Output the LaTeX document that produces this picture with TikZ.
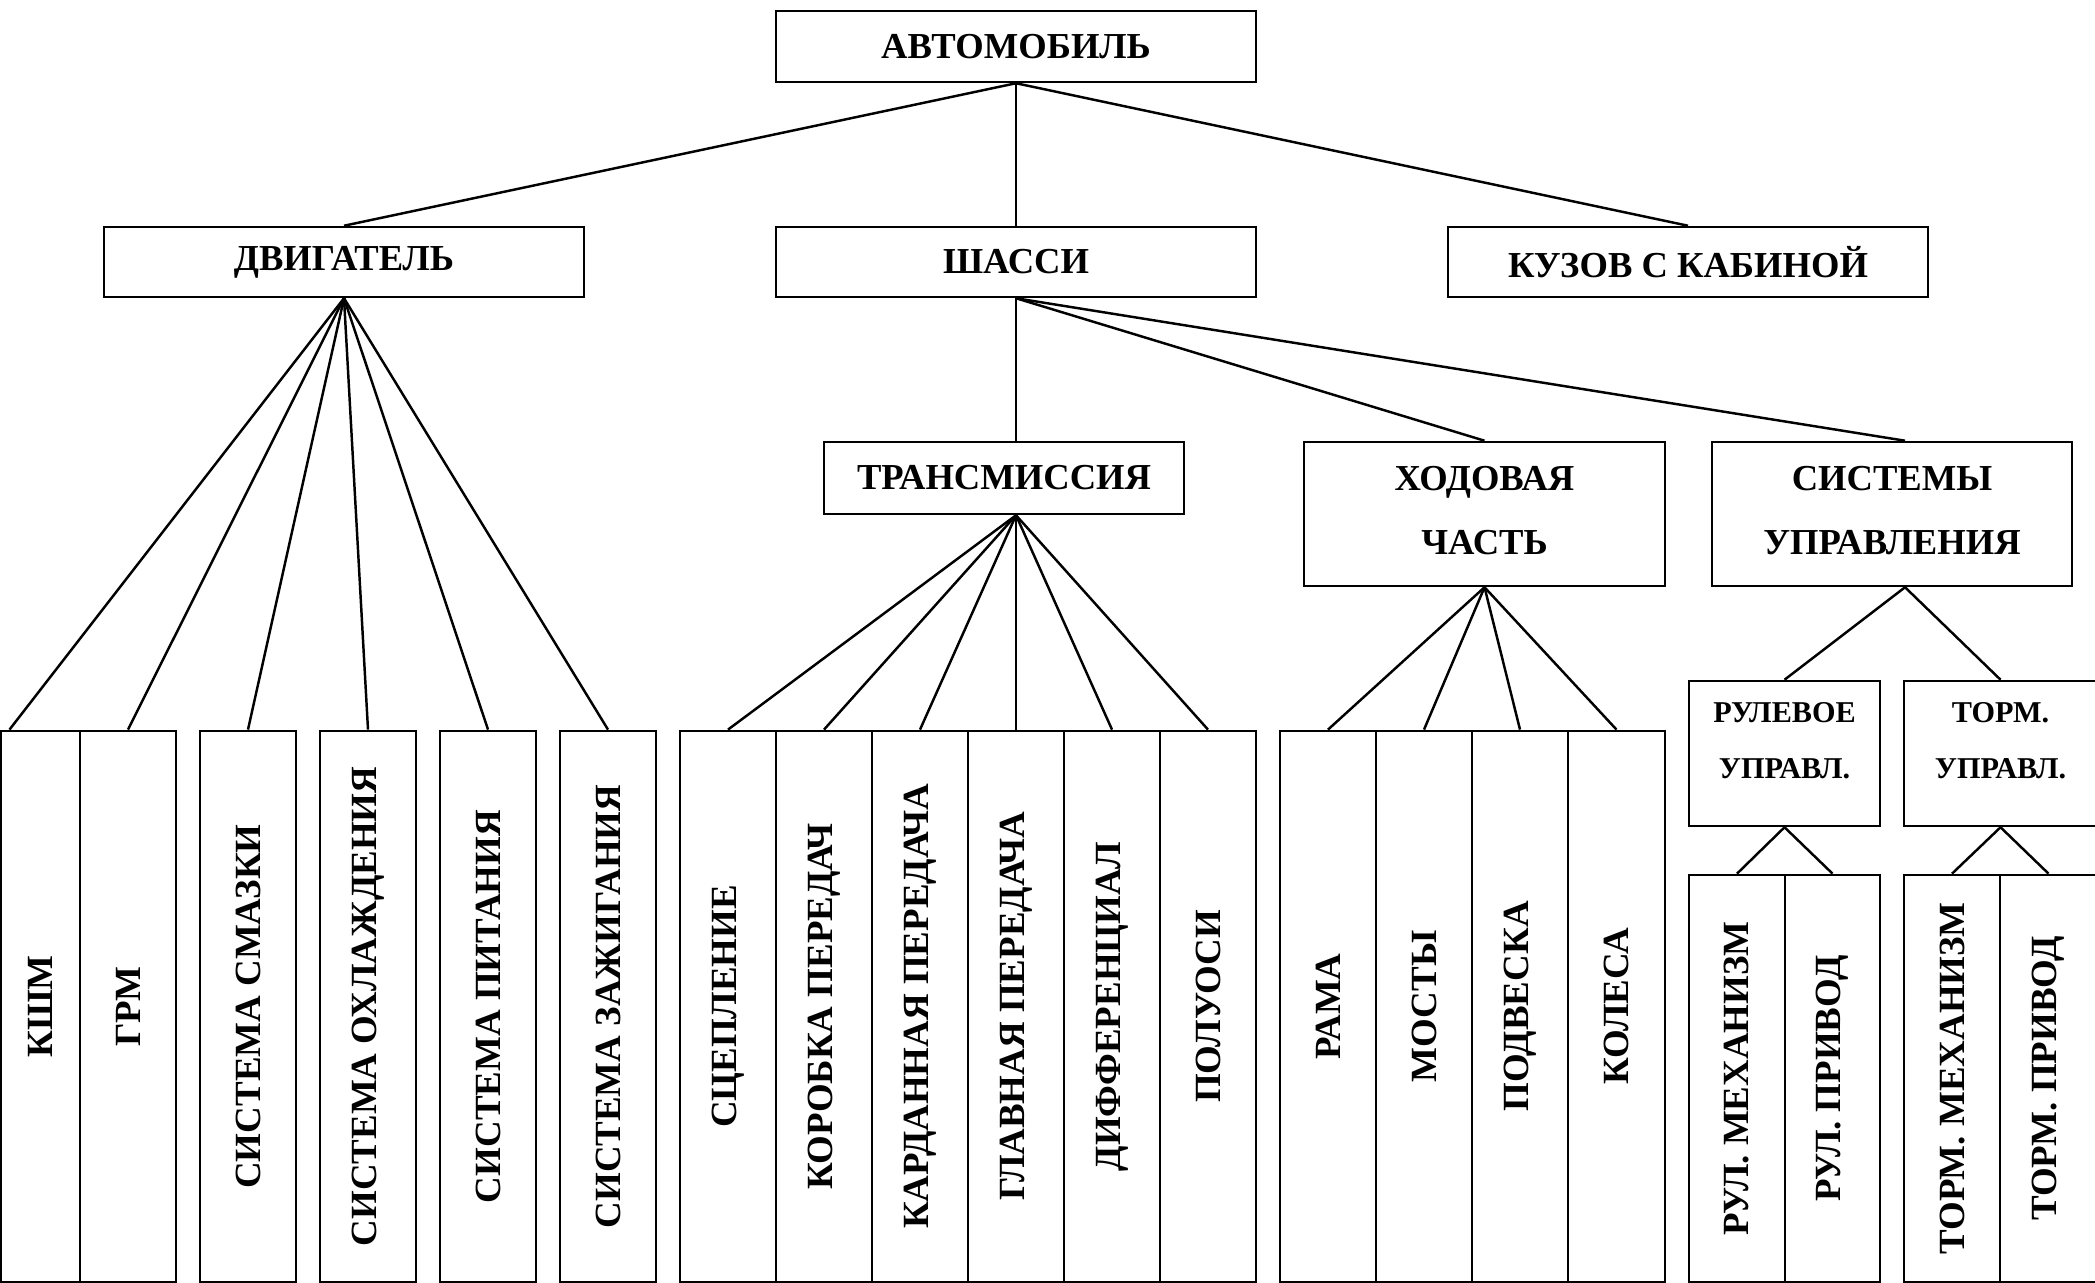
\documentclass[tikz,border=0pt]{standalone}
\usepackage{fontspec}
\setmainfont{Liberation Serif}
\usepackage{graphicx}

\tikzset{
  blok/.style={draw, inner sep=0pt, align=center, font=\bfseries\fontsize{10.4}{18.2}\selectfont},
  malblok/.style={draw, inner sep=0pt, align=center, minimum height=1.45cm, font=\bfseries\fontsize{8.6}{15.9}\selectfont},
  stolb/.style={draw, inner sep=0pt, minimum width=0.96cm, font=\bfseries\fontsize{10.5}{12}\selectfont},
}

\begin{document}
\begin{tikzpicture}[x=0.01cm, y=-0.01cm, line width=0.7pt]
  \useasboundingbox (0,0) rectangle (2095,1283);

  \node[blok, minimum width=4.8cm, minimum height=0.71cm] (avto) at (1016,46.5) {АВТОМОБИЛЬ};
  \node[blok, minimum width=4.8cm, minimum height=0.7cm] (dvig) at (344,262) {ДВИГАТЕЛЬ};
  \node[blok, minimum width=4.8cm, minimum height=0.7cm] (shassi) at (1016,262) {ШАССИ};
  \node[blok, minimum width=4.8cm, minimum height=0.7cm] (kuzov) at (1688,262) {КУЗОВ С КАБИНОЙ};

  \node[blok, minimum width=3.6cm, minimum height=0.72cm] (trans) at (1004,478) {ТРАНСМИССИЯ};
  \node[blok, minimum width=3.61cm, minimum height=1.44cm] (hod) at (1484.5,514) {ХОДОВАЯ\\ЧАСТЬ\\[-16pt]\mbox{}};
  \node[blok, minimum width=3.6cm, minimum height=1.44cm] (sysu) at (1892,514) {СИСТЕМЫ\\УПРАВЛЕНИЯ\\[-16pt]\mbox{}};

  \node[malblok, minimum width=1.91cm] (rul) at (1784.5,753.5) {РУЛЕВОЕ\\УПРАВЛ.\\[-8.5pt]\mbox{}};
  \node[malblok, minimum width=1.93cm] (torm) at (2000.5,753.5) {ТОРМ.\\УПРАВЛ.\\[-8.5pt]\mbox{}};

  \node[stolb, minimum width=0.79cm, minimum height=5.51cm] (kshm) at (40.5,1006.5) {\rotatebox{90}{КШМ}};
  \node[stolb, minimum height=5.51cm] (grm) at (128,1006.5) {\rotatebox{90}{ГРМ}};
  \node[stolb, minimum height=5.51cm] (smaz) at (248,1006.5) {\rotatebox{90}{СИСТЕМА СМАЗКИ}};
  \node[stolb, minimum height=5.51cm] (ohl) at (368,1006.5) {\rotatebox{90}{СИСТЕМА ОХЛАЖДЕНИЯ}};
  \node[stolb, minimum height=5.51cm] (pit) at (488,1006.5) {\rotatebox{90}{СИСТЕМА ПИТАНИЯ}};
  \node[stolb, minimum height=5.51cm] (zazh) at (608,1006.5) {\rotatebox{90}{СИСТЕМА ЗАЖИГАНИЯ}};

  \node[stolb, minimum height=5.51cm] (scep) at (728,1006.5) {\rotatebox{90}{СЦЕПЛЕНИЕ}};
  \node[stolb, minimum height=5.51cm] (korob) at (824,1006.5) {\rotatebox{90}{КОРОБКА ПЕРЕДАЧ}};
  \node[stolb, minimum height=5.51cm] (kard) at (920,1006.5) {\rotatebox{90}{КАРДАННАЯ ПЕРЕДАЧА}};
  \node[stolb, minimum height=5.51cm] (glav) at (1016,1006.5) {\rotatebox{90}{ГЛАВНАЯ ПЕРЕДАЧА}};
  \node[stolb, minimum height=5.51cm] (diff) at (1112,1006.5) {\rotatebox{90}{ДИФФЕРЕНЦИАЛ}};
  \node[stolb, minimum height=5.51cm] (poluos) at (1208,1006.5) {\rotatebox{90}{ПОЛУОСИ}};

  \node[stolb, minimum height=5.51cm] (rama) at (1328,1006.5) {\rotatebox{90}{РАМА}};
  \node[stolb, minimum height=5.51cm] (mosty) at (1424,1006.5) {\rotatebox{90}{МОСТЫ}};
  \node[stolb, minimum height=5.51cm] (podv) at (1520,1006.5) {\rotatebox{90}{ПОДВЕСКА}};
  \node[stolb, minimum width=0.97cm, minimum height=5.51cm] (kolesa) at (1616.5,1006.5) {\rotatebox{90}{КОЛЕСА}};

  \node[stolb, minimum height=4.07cm] (rulmeh) at (1737,1078.5) {\rotatebox{90}{РУЛ. МЕХАНИЗМ}};
  \node[stolb, minimum width=0.95cm, minimum height=4.07cm] (rulpriv) at (1832.5,1078.5) {\rotatebox{90}{РУЛ. ПРИВОД}};
  \node[stolb, minimum height=4.07cm] (tormmeh) at (1952,1078.5) {\rotatebox{90}{ТОРМ. МЕХАНИЗМ}};
  \node[stolb, minimum width=0.97cm, minimum height=4.07cm] (tormpriv) at (2048.5,1078.5) {\rotatebox{90}{ТОРМ. ПРИВОД}};

  \draw (avto.south) -- (dvig.north);
  \draw (avto.south) -- (shassi.north);
  \draw (avto.south) -- (kuzov.north);

  \draw (dvig.south) -- ([xshift=-0.31cm]kshm.north);
  \draw (dvig.south) -- (grm.north);
  \draw (dvig.south) -- (smaz.north);
  \draw (dvig.south) -- (ohl.north);
  \draw (dvig.south) -- (pit.north);
  \draw (dvig.south) -- (zazh.north);

  \draw (shassi.south) -- (shassi.south |- trans.north);
  \draw (shassi.south) -- (hod.north);
  \draw (shassi.south) -- ([xshift=0.13cm]sysu.north);

  \draw (shassi.south |- trans.south) -- (scep.north);
  \draw (shassi.south |- trans.south) -- (korob.north);
  \draw (shassi.south |- trans.south) -- (kard.north);
  \draw (shassi.south |- trans.south) -- (glav.north);
  \draw (shassi.south |- trans.south) -- (diff.north);
  \draw (shassi.south |- trans.south) -- (poluos.north);

  \draw (hod.south) -- (rama.north);
  \draw (hod.south) -- (mosty.north);
  \draw (hod.south) -- (podv.north);
  \draw (hod.south) -- (kolesa.north);

  \draw ([xshift=0.13cm]sysu.south) -- (rul.north);
  \draw ([xshift=0.13cm]sysu.south) -- (torm.north);

  \draw (rul.south) -- (rulmeh.north);
  \draw (rul.south) -- (rulpriv.north);
  \draw (torm.south) -- (tormmeh.north);
  \draw (torm.south) -- (tormpriv.north);
\end{tikzpicture}
\end{document}
